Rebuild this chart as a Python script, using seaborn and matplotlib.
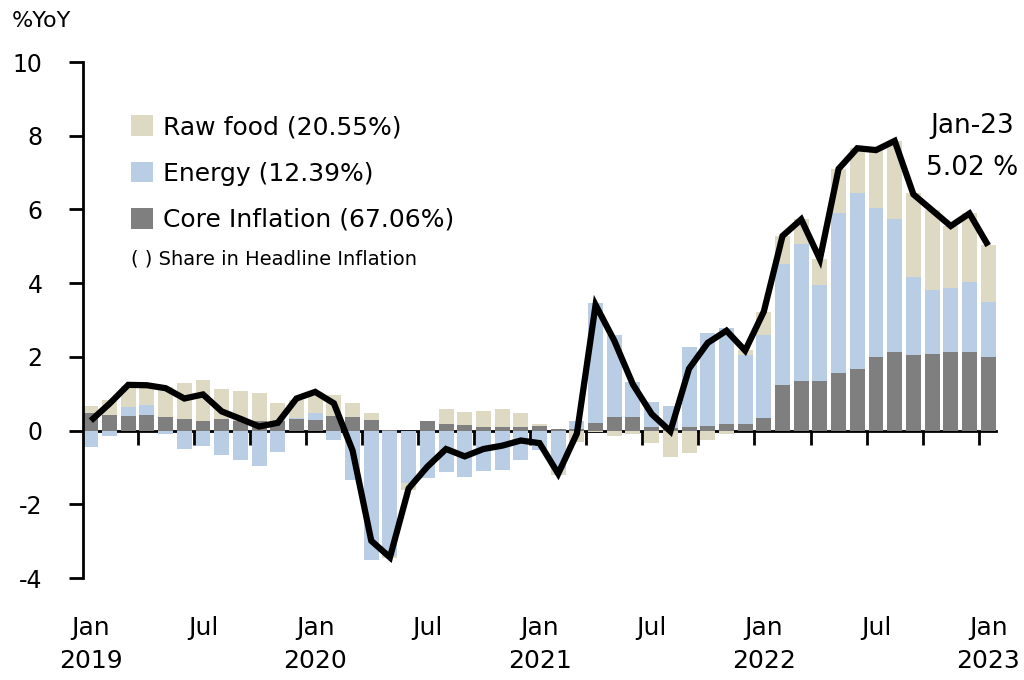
import matplotlib
matplotlib.use("Agg")
import matplotlib.pyplot as plt
from matplotlib.patches import Patch
import seaborn as sns
import numpy as np
import pandas as pd

months = pd.date_range("2019-01-01", "2023-01-01", freq="MS").strftime("%b-%y").tolist()

core = [0.49, 0.41, 0.40, 0.41, 0.36, 0.32, 0.27, 0.32, 0.27, 0.27, 0.25, 0.32,
        0.30, 0.39, 0.36, 0.28, 0.01, 0.00, 0.26, 0.18, 0.15, 0.11, 0.10, 0.11,
        0.12, 0.03, 0.05, 0.20, 0.36, 0.38, 0.09, 0.07, 0.11, 0.13, 0.17, 0.17,
        0.34, 1.23, 1.34, 1.34, 1.55, 1.68, 2.00, 2.12, 2.06, 2.07, 2.12, 2.12, 1.99]
energy = [-0.44, -0.15, 0.24, 0.29, -0.09, -0.49, -0.42, -0.65, -0.81, -0.97, -0.59, 0.02,
          0.19, -0.26, -1.33, -3.52, -3.40, -1.42, -1.29, -1.13, -1.26, -1.10, -1.06, -0.80,
          -0.54, -1.05, 0.20, 3.26, 2.23, 0.94, 0.68, 0.61, 2.16, 2.51, 2.62, 1.88,
          2.25, 3.30, 3.73, 2.60, 4.36, 4.77, 4.03, 3.63, 2.12, 1.75, 1.76, 1.92, 1.51]
raw_food = [0.18, 0.42, 0.57, 0.51, 0.81, 0.98, 1.09, 0.81, 0.81, 0.74, 0.51, 0.50,
            0.56, 0.57, 0.40, 0.19, -0.05, -0.18, 0.00, 0.41, 0.35, 0.42, 0.49, 0.37,
            0.05, -0.15, -0.30, -0.05, -0.16, -0.09, -0.35, -0.73, -0.62, -0.25, -0.08, 0.13,
            0.64, 0.76, 0.66, 0.71, 1.20, 1.21, 1.58, 2.11, 2.26, 2.16, 1.67, 1.87, 1.53]
headline = [0.27, 0.73, 1.24, 1.23, 1.15, 0.87, 0.98, 0.52, 0.32, 0.11, 0.21, 0.87,
            1.05, 0.74, -0.54, -2.99, -3.44, -1.57, -0.98, -0.50, -0.70, -0.50, -0.41, -0.27,
            -0.34, -1.17, -0.08, 3.41, 2.44, 1.25, 0.45, -0.02, 1.68, 2.38, 2.71, 2.17,
            3.23, 5.28, 5.73, 4.65, 7.10, 7.66, 7.61, 7.86, 6.41, 5.98, 5.55, 5.89, 5.02]

legend_labels = ["Raw food (20.55%)", "Energy (12.39%)", "Core Inflation (67.06%)"]
note_text = "( ) Share in Headline Inflation"
xtick_pos = [0, 6, 12, 18, 24, 30, 36, 42, 48]
xtick_labels = ["Jan\n2019", "Jul", "Jan\n2020", "Jul", "Jan\n2021", "Jul",
                "Jan\n2022", "Jul", "Jan\n2023"]
yticks = [-4, -2, 0, 2, 4, 6, 8, 10]
last_label = "Jan-23\n5.02 %"

C_FOOD = "#DDD9C3"
C_ENERGY = "#B9CDE5"
C_CORE = "#7F7F7F"

sns.set_theme(style="white")
plt.rcParams["font.family"] = ["DejaVu Sans"]
plt.rcParams["text.color"] = "black"
plt.rcParams["axes.labelcolor"] = "black"
plt.rcParams["xtick.color"] = "black"
plt.rcParams["ytick.color"] = "black"

df = pd.DataFrame({"month": months, "core": core, "energy": energy,
                   "food": raw_food, "headline": headline})
df["pos"] = np.arange(len(df))
cp = df["core"].clip(lower=0); cn = df["core"].clip(upper=0)
ep = df["energy"].clip(lower=0); en = df["energy"].clip(upper=0)
fp = df["food"].clip(lower=0); fn = df["food"].clip(upper=0)
layers = [
    (cp + ep + fp, C_FOOD), (cp + ep, C_ENERGY), (cp, C_CORE),
    (cn + en + fn, C_FOOD), (cn + en, C_ENERGY), (cn, C_CORE),
]

fig = plt.figure(figsize=(10.24, 6.8), dpi=100)
ax = fig.add_axes([83 / 1024, 1 - 578 / 680, (996 - 83) / 1024, (578 - 62) / 680])

for vals, col in layers:
    sns.barplot(x=df["pos"], y=vals, color=col, saturation=1, width=0.8,
                errorbar=None, ax=ax, linewidth=0)

sns.lineplot(x=df["pos"], y=df["headline"], color="black", linewidth=4.5,
             ax=ax, solid_joinstyle="miter", solid_capstyle="butt")

ax.set_xlim(-0.42, 48.42)
ax.set_ylim(-4, 10)
ax.set_xlabel("")
ax.set_ylabel("")
ax.set_yticks(yticks)
ax.set_yticklabels([str(v) for v in yticks])
ax.tick_params(axis="y", direction="out", length=10, width=2, pad=19,
               labelsize=17, colors="black", left=True)
ax.set_xticks(xtick_pos)
ax.set_xticklabels(xtick_labels)
ax.tick_params(axis="x", length=0, pad=27, labelsize=18, colors="black")
for t in ax.get_xticklabels():
    t.set_linespacing(1.5)
    t.set_verticalalignment("top")

for s in ["top", "right", "bottom"]:
    ax.spines[s].set_visible(False)
ax.spines["left"].set_color("black")
ax.spines["left"].set_linewidth(2)

sec = ax.secondary_xaxis(0, transform=ax.transData)
sec.set_xticks(np.arange(2.5, 48, 3))
sec.set_xticklabels([])
sec.tick_params(axis="x", direction="out", length=10, width=2, colors="black")
sec.spines["bottom"].set_linewidth(2)
sec.spines["bottom"].set_color("black")

handles = [Patch(facecolor=C_FOOD, edgecolor="none"),
           Patch(facecolor=C_ENERGY, edgecolor="none"),
           Patch(facecolor=C_CORE, edgecolor="none")]
leg = ax.legend(handles, legend_labels, loc="upper left", frameon=False,
                bbox_to_anchor=(131 / 1024, 1 - 115 / 680),
                bbox_transform=fig.transFigure, fontsize=18,
                handlelength=0.88, handleheight=0.88, handletextpad=0.4,
                labelspacing=0.9, borderaxespad=0, borderpad=0)
for t in leg.get_texts():
    t.set_color("black")

fig.text(131 / 1024, 1 - 259 / 680, note_text, fontsize=14, va="center", ha="left")
fig.text(12 / 1024, 1 - 21 / 680, "%YoY", fontsize=16, va="center", ha="left")
fig.text(972 / 1024, 1 - 147 / 680, last_label, fontsize=19, ha="center",
         va="center", linespacing=1.8)

fig.savefig("out.png", dpi=100)
